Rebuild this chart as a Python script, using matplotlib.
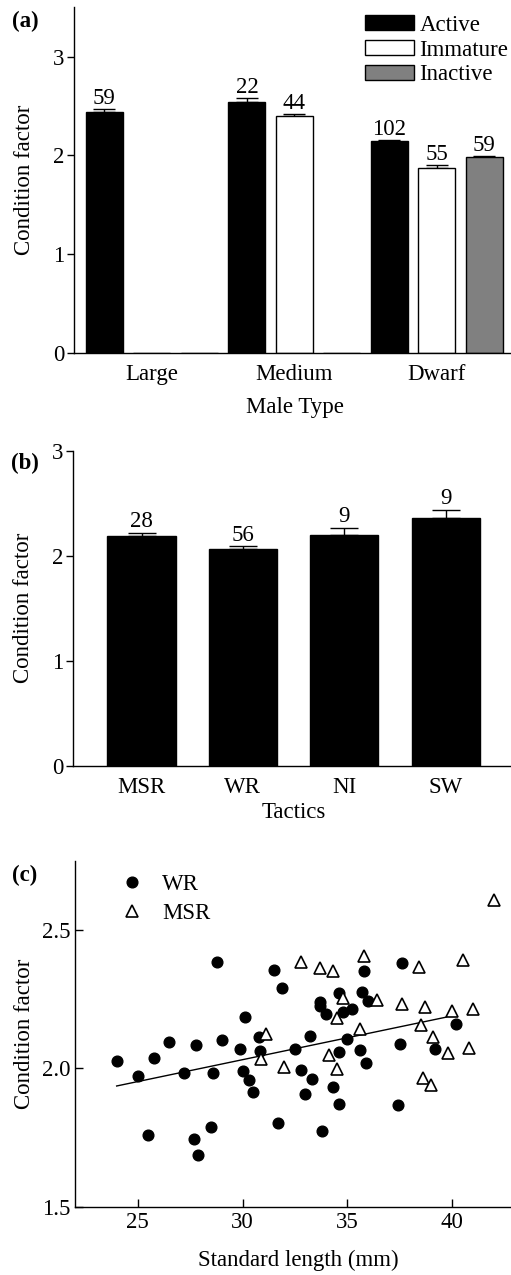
import numpy as np
import matplotlib
matplotlib.use('Agg')
import matplotlib.pyplot as plt

plt.rcParams['font.family'] = 'Liberation Serif'
plt.rcParams['font.size'] = 16.5
plt.rcParams['axes.linewidth'] = 1.0

#%% data
# (a) condition factor by male type and reproductive state
male_types = ['Large', 'Medium', 'Dwarf']
states = ['Active', 'Immature', 'Inactive']
state_colors = ['black', 'white', '#808080']
active_cf = [2.44, 2.54, 2.14]
immature_cf = [0.0, 2.40, 1.87]
inactive_cf = [0.0, 0.0, 1.98]
active_se = [0.03, 0.04, 0.02]
immature_se = [0.0, 0.02, 0.03]
inactive_se = [0.0, 0.0, 0.017]
active_n = [59, 22, 102]
immature_n = [None, 44, 55]
inactive_n = [None, None, 59]

# (b) condition factor by tactic
tactics = ['MSR', 'WR', 'NI', 'SW']
tactic_cf = [2.19, 2.07, 2.20, 2.36]
tactic_se = [0.028, 0.02, 0.067, 0.077]
tactic_n = [28, 56, 9, 9]

# (c) condition factor vs standard length
wr_len = [24.0, 25.0, 25.8, 26.5, 27.2, 27.8, 28.6, 28.8, 29.0, 29.9,
          30.1, 30.0, 30.3, 30.5, 30.8, 30.85, 31.5, 31.9, 32.5, 32.8,
          33.2, 33.3, 33.0, 33.7, 33.7, 34.0, 34.3, 34.6, 34.6, 34.6,
          34.8, 35.0, 35.2, 35.6, 35.7, 35.8, 35.9, 36.0, 37.4, 37.5,
          37.6, 39.2, 40.2, 25.5, 27.7, 27.9, 28.5, 31.7, 33.8]
wr_cf = [2.025, 1.972, 2.036, 2.095, 1.984, 2.083, 1.983, 2.382, 2.101, 2.068,
         2.185, 1.990, 1.959, 1.914, 2.114, 2.064, 2.354, 2.291, 2.070, 1.994,
         2.116, 1.960, 1.906, 2.241, 2.225, 2.195, 1.931, 2.272, 2.060, 1.872,
         2.202, 2.104, 2.213, 2.066, 2.277, 2.353, 2.019, 2.243, 1.866, 2.089,
         2.379, 2.071, 2.160, 1.759, 1.744, 1.686, 1.787, 1.804, 1.772]
msr_len = [42.0, 35.8, 32.8, 40.5, 33.7, 34.3, 38.4, 34.8, 36.4, 37.6,
           38.7, 40.0, 41.0, 34.5, 38.5, 35.6, 31.1, 39.1, 40.8, 30.9,
           34.1, 39.8, 32.0, 34.5, 38.6, 39.0]
msr_cf = [2.608, 2.407, 2.382, 2.391, 2.361, 2.353, 2.367, 2.253, 2.247, 2.232,
          2.220, 2.208, 2.213, 2.181, 2.157, 2.141, 2.123, 2.112, 2.073, 2.035,
          2.049, 2.054, 2.006, 1.996, 1.965, 1.939]
fit_range = [24.0, 39.7]
fit_intercept = 1.556
fit_slope = 0.01583

#%% figure
fig = plt.figure(figsize=(5.11, 12.75), dpi=100)

# ---- (a)
ax1 = fig.add_axes([0.145, 0.7234, 0.855, 0.2709])
cfs = [active_cf, immature_cf, inactive_cf]
ses = [active_se, immature_se, inactive_se]
ns = [active_n, immature_n, inactive_n]
for s in range(3):
    x = np.arange(3) * 3 + s
    cf = np.array(cfs[s])
    se = np.array(ses[s])
    ax1.bar(x, cf, width=0.78, color=state_colors[s], edgecolor='black',
            linewidth=1, label=states[s], zorder=2)
    m = cf > 0
    ax1.errorbar(x[m], cf[m], yerr=[np.zeros(m.sum()), se[m]], fmt='none',
                 ecolor='black', elinewidth=1, capsize=8, capthick=1, zorder=1)
    for xi, yi, ei, n in zip(x, cf, se, ns[s]):
        if n is not None:
            ax1.annotate(str(n), (xi, yi + ei), xytext=(0, 3.5),
                         textcoords='offset points', ha='center', va='baseline')
ax1.set_xlim(-0.64, 8.56)
ax1.set_ylim(0, 3.5)
ax1.set_yticks([0, 1, 2, 3])
ax1.set_xticks(np.arange(3) * 3 + 1)
ax1.set_xticklabels(male_types)
ax1.tick_params(axis='y', direction='out', length=5, width=1, pad=2)
ax1.tick_params(axis='x', length=0, pad=8)
ax1.spines['top'].set_visible(False)
ax1.spines['right'].set_visible(False)
ax1.set_ylabel('Condition factor')
ax1.yaxis.set_label_coords(-0.09, 0.5)
ax1.set_xlabel('Male Type')
ax1.xaxis.set_label_coords(0.506, -0.128)
ax1.legend(loc='upper right', bbox_to_anchor=(0.994, 0.9775), frameon=False,
           handlelength=2.14, handleheight=0.63, handletextpad=0.26,
           labelspacing=0.16, borderpad=0, borderaxespad=0)

# ---- (b)
ax2 = fig.add_axes([0.1434, 0.3995, 0.8566, 0.2468])
xb = np.arange(len(tactics))
ax2.bar(xb, tactic_cf, width=0.674, color='black', edgecolor='black',
        linewidth=1, zorder=2)
ax2.errorbar(xb, tactic_cf, yerr=[np.zeros(len(xb)), tactic_se], fmt='none',
             ecolor='black', elinewidth=1, capsize=10, capthick=1, zorder=1)
for xi, yi, ei, n in zip(xb, tactic_cf, tactic_se, tactic_n):
    ax2.annotate(str(n), (xi, yi + ei), xytext=(0, 4),
                 textcoords='offset points', ha='center', va='baseline')
ax2.set_xlim(-0.673, 3.644)
ax2.set_ylim(0, 3)
ax2.set_yticks([0, 1, 2, 3])
ax2.set_xticks(xb)
ax2.set_xticklabels(tactics)
ax2.tick_params(axis='y', direction='out', length=5, width=1, pad=2)
ax2.tick_params(axis='x', length=0, pad=8)
ax2.spines['top'].set_visible(False)
ax2.spines['right'].set_visible(False)
ax2.set_ylabel('Condition factor')
ax2.yaxis.set_label_coords(-0.09, 0.5)
ax2.set_xlabel('Tactics')
ax2.xaxis.set_label_coords(0.503, -0.115)

# ---- (c)
ax3 = fig.add_axes([0.1462, 0.0536, 0.8538, 0.2714])
fx = np.array(fit_range)
ax3.plot(fx, fit_intercept + fit_slope * fx, color='black', lw=1, zorder=1)
ax3.plot(wr_len, wr_cf, 'o', color='black', ms=7.7, ls='none', label='WR', zorder=2)
ax3.plot(msr_len, msr_cf, '^', mfc='white', mec='black', mew=1.2, ms=8,
         ls='none', label='MSR', zorder=3)
ax3.set_xlim(22.0, 42.8)
ax3.set_ylim(1.5, 2.75)
ax3.set_xticks([25, 30, 35, 40])
ax3.set_yticks([1.5, 2.0, 2.5])
ax3.set_yticklabels(['1.5', '2.0', '2.5'])
ax3.tick_params(direction='in', length=6, width=1)
ax3.tick_params(axis='y', pad=3)
ax3.tick_params(axis='x', pad=4)
ax3.spines['top'].set_visible(False)
ax3.spines['right'].set_visible(False)
ax3.set_ylabel('Condition factor')
ax3.yaxis.set_label_coords(-0.09, 0.5)
ax3.set_xlabel('Standard length (mm)')
ax3.xaxis.set_label_coords(0.512, -0.125)
ax3.legend(loc='upper left', bbox_to_anchor=(0.106, 0.9605), frameon=False,
           handlelength=1.0, handletextpad=0.81, labelspacing=0.315,
           borderpad=0, borderaxespad=0)

# panel letters
fig.text(25 / 511, 1 - 21.5 / 1275, '(a)', fontweight='bold', ha='center', va='center')
fig.text(25 / 511, 1 - 463 / 1275, '(b)', fontweight='bold', ha='center', va='center')
fig.text(25 / 511, 1 - 875 / 1275, '(c)', fontweight='bold', ha='center', va='center')

plt.savefig('out.png', dpi=100)
